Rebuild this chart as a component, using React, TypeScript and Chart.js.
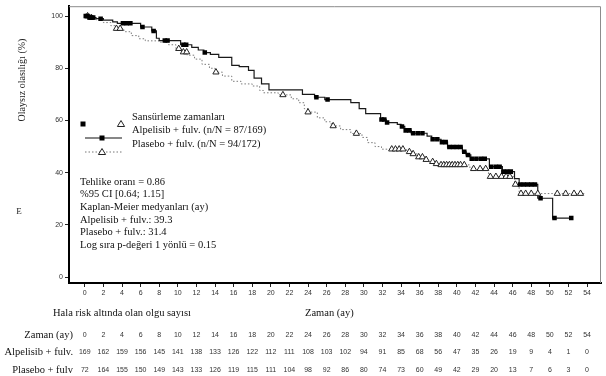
import React, { useEffect, useRef } from 'react';
import { Chart, registerables } from 'chart.js';

Chart.register(...registerables);

// ---- data ----
const tickMonths = [0, 2, 4, 6, 8, 10, 12, 14, 16, 18, 20, 22, 24, 26, 28, 30, 32, 34, 36, 38, 40, 42, 44, 46, 48, 50, 52, 54];
const yTickValues = [0, 20, 40, 60, 80, 100];

const alpTimes = [0, 0.5, 1.2, 2.0, 3.0, 3.5, 6.0, 7.2, 7.7, 8.0, 10.3, 11.5, 12.2, 12.8, 13.5, 14.4, 15.8, 16.6, 17.6, 18.2, 19.0, 19.8, 23.4, 24.7, 25.8, 28.6, 29.5, 30.2, 31.8, 32.4, 33.6, 34.0, 34.4, 35.1, 36.8, 37.3, 38.3, 39.0, 40.6, 41.0, 41.5, 43.5, 44.9, 46.2, 46.7, 48.7, 50.3, 52.4];
const alpSurv = [100, 99.4, 99.0, 98.4, 97.8, 97.2, 95.8, 94.3, 91.5, 90.6, 89.0, 88.0, 87.0, 86.0, 85.3, 84.2, 81.1, 80.6, 79.2, 76.2, 74.0, 71.7, 70.0, 68.9, 68.0, 66.8, 64.5, 62.6, 60.4, 59.2, 58.5, 57.7, 56.2, 55.1, 54.0, 52.8, 51.7, 49.8, 48.0, 46.8, 45.3, 42.3, 40.4, 37.7, 35.5, 30.2, 22.6, 22.6];

const plaTimes = [0, 0.6, 1.2, 2.0, 2.8, 3.3, 4.2, 5.0, 5.8, 6.5, 8.0, 9.0, 9.8, 10.4, 11.0, 11.8, 12.6, 13.4, 14.0, 14.8, 15.8, 16.8, 18.0, 18.8, 19.2, 20.8, 22.2, 23.0, 23.6, 24.0, 25.0, 25.8, 26.5, 27.5, 28.6, 29.8, 30.4, 31.2, 31.9, 34.6, 35.1, 35.8, 36.4, 36.9, 37.6, 38.2, 41.4, 43.4, 46.2, 46.7, 53.7];
const plaSurv = [100, 99.4, 98.5, 97.5, 96.3, 95.2, 94.0, 92.5, 91.3, 90.5, 90.0, 89.0, 87.5, 86.2, 85.0, 83.5, 81.5, 80.0, 78.5, 77.0, 75.0, 74.0, 73.2, 71.5, 70.6, 69.8, 68.3, 66.8, 64.5, 63.2, 61.0, 59.5, 57.9, 56.5, 55.0, 53.5, 51.5, 50.0, 49.0, 48.0, 47.2, 46.0, 45.0, 44.2, 43.4, 43.0, 41.5, 38.5, 35.5, 32.0, 32.0];

const alpCensorTimes = [0.1, 0.3, 0.5, 0.7, 0.9, 1.7, 4.1, 4.5, 4.9, 6.2, 7.4, 8.6, 8.9, 10.6, 10.9, 12.9, 24.9, 26.1, 31.9, 32.2, 32.5, 34.1, 34.5, 34.9, 35.3, 35.8, 36.3, 37.4, 37.9, 38.4, 38.8, 39.2, 39.6, 40.0, 40.4, 40.8, 41.2, 41.6, 42.1, 42.6, 43.0, 43.7, 44.2, 44.6, 45.0, 45.4, 45.8, 46.8, 47.2, 47.6, 48.0, 48.4, 49.0, 50.5, 52.3];
const plaCensorTimes = [0.3, 0.7, 3.4, 3.8, 10.1, 10.6, 10.95, 14.1, 21.3, 24.0, 26.7, 29.2, 33.0, 33.4, 33.8, 34.2, 34.9, 35.3, 35.9, 36.3, 36.7, 37.4, 37.8, 38.3, 38.6, 38.9, 39.2, 39.5, 39.8, 40.1, 40.4, 40.8, 41.8, 42.5, 43.1, 43.6, 44.2, 44.8, 45.3, 45.7, 46.3, 46.9, 47.4, 48.0, 48.7, 50.8, 51.7, 52.6, 53.3];

const riskAlpelisib = [169, 162, 159, 156, 145, 141, 138, 133, 126, 122, 112, 111, 108, 103, 102, 94, 91, 85, 68, 56, 47, 35, 26, 19, 9, 4, 1, 0];
const riskPlasebo = [72, 164, 155, 150, 149, 143, 133, 126, 119, 115, 111, 104, 98, 92, 86, 80, 74, 73, 60, 49, 42, 29, 20, 13, 7, 6, 3, 0];

const yTitle = 'Olaysız olasılığı (%)';
const xTitle = 'Zaman (ay)';
const riskTitle = 'Hala risk altında olan olgu sayısı';
const legendTitle = 'Sansürleme zamanları';
const legendAlp = 'Alpelisib + fulv. (n/N = 87/169)';
const legendPla = 'Plasebo + fulv. (n/N = 94/172)';
const statLines = [
  'Tehlike oranı = 0.86',
  '%95 CI [0.64; 1.15]',
  'Kaplan-Meier medyanları (ay)',
  'Alpelisib + fulv.: 39.3',
  'Plasebo + fulv.: 31.4',
  'Log sıra p-değeri 1 yönlü = 0.15',
];
const riskRowLabels = ['Zaman (ay)', 'Alpelisib + fulv.', 'Plasebo + fulv'];

// ---- helpers ----
function survAt(times: number[], surv: number[], t: number): number {
  let v = surv[0];
  for (let i = 0; i < times.length; i++) {
    if (times[i] <= t) v = surv[i];
    else break;
  }
  return v;
}

const SERIF = '"Liberation Serif", "Times New Roman", serif';
const SANS = '"Liberation Sans", Arial, sans-serif';

const annotPlugin = {
  id: 'annot',
  afterDraw(chart: any) {
    const ctx = chart.ctx as CanvasRenderingContext2D;
    const a = chart.chartArea;
    const xs = chart.scales.x;
    ctx.save();
    // top/right frame
    ctx.strokeStyle = '#8c8c8c';
    ctx.lineWidth = 1;
    ctx.beginPath();
    ctx.moveTo(a.left, a.top + 0.5);
    ctx.lineTo(a.right - 0.5, a.top + 0.5);
    ctx.lineTo(a.right - 0.5, a.bottom);
    ctx.stroke();

    // y title
    ctx.fillStyle = '#222';
    ctx.font = `10px ${SERIF}`;
    ctx.textAlign = 'center';
    ctx.textBaseline = 'middle';
    ctx.save();
    ctx.translate(22, 80);
    ctx.rotate(-Math.PI / 2);
    ctx.fillText(yTitle, 0, 0);
    ctx.restore();
    ctx.font = `9px ${SERIF}`;
    ctx.fillText('E', 19, 212);

    // legend
    ctx.textAlign = 'left';
    ctx.font = `10.5px ${SERIF}`;
    ctx.fillStyle = '#111';
    ctx.fillText(legendTitle, 132, 117);
    ctx.fillText(legendAlp, 132, 130);
    ctx.fillText(legendPla, 132, 144);
    // legend symbols
    ctx.fillStyle = '#000';
    ctx.fillRect(80.5, 121.5, 5, 5);
    const tri = (cx: number, cy: number) => {
      ctx.beginPath();
      ctx.moveTo(cx, cy - 3.5);
      ctx.lineTo(cx + 3.6, cy + 2.5);
      ctx.lineTo(cx - 3.6, cy + 2.5);
      ctx.closePath();
      ctx.fillStyle = '#fff';
      ctx.fill();
      ctx.strokeStyle = '#222';
      ctx.lineWidth = 1;
      ctx.stroke();
    };
    tri(121, 124);
    ctx.strokeStyle = '#111';
    ctx.lineWidth = 1.2;
    ctx.beginPath();
    ctx.moveTo(85, 138);
    ctx.lineTo(122, 138);
    ctx.stroke();
    ctx.fillStyle = '#000';
    ctx.fillRect(99.5, 135.5, 5, 5);
    ctx.strokeStyle = '#777';
    ctx.lineWidth = 1;
    ctx.setLineDash([1.5, 2]);
    ctx.beginPath();
    ctx.moveTo(85, 152);
    ctx.lineTo(122, 152);
    ctx.stroke();
    ctx.setLineDash([]);
    tri(102, 152);

    // stats
    ctx.fillStyle = '#111';
    ctx.font = `10.5px ${SERIF}`;
    statLines.forEach((s, i) => ctx.fillText(s, 80, 182 + i * 12.6));

    // bottom titles
    ctx.fillText(riskTitle, 53, 313);
    ctx.fillText(xTitle, 305, 313);

    // risk table
    const rowY = [335, 352, 370];
    ctx.textAlign = 'right';
    riskRowLabels.forEach((l, i) => ctx.fillText(l, 73, rowY[i]));
    ctx.textAlign = 'center';
    ctx.font = `7px ${SANS}`;
    ctx.fillStyle = '#333';
    const rows = [tickMonths, riskAlpelisib, riskPlasebo];
    rows.forEach((row, r) => {
      row.forEach((v, i) => {
        ctx.fillText(String(v), xs.getPixelForValue(tickMonths[i]), rowY[r]);
      });
    });
    ctx.restore();
  },
};

export default function App() {
  const ref = useRef<HTMLCanvasElement | null>(null);
  useEffect(() => {
    if (!ref.current) return;
    const alpLine = alpTimes.map((t, i) => ({ x: t, y: alpSurv[i] }));
    const plaLine = plaTimes.map((t, i) => ({ x: t, y: plaSurv[i] }));
    const alpCens = alpCensorTimes.map((t) => ({ x: t, y: survAt(alpTimes, alpSurv, t) }));
    const plaCens = plaCensorTimes.map((t) => ({ x: t, y: survAt(plaTimes, plaSurv, t) }));

    const chart = new Chart(ref.current, {
      type: 'scatter',
      data: {
        datasets: [
          {
            label: 'Alpelisib censored',
            data: alpCens,
            showLine: false,
            pointStyle: 'rect',
            pointRadius: 3.2,
            backgroundColor: '#000',
            borderColor: '#000',
            borderWidth: 0,
            order: 0,
          },
          {
            label: 'Plasebo censored',
            data: plaCens,
            showLine: false,
            pointStyle: 'triangle',
            pointRadius: 3.6,
            backgroundColor: '#fff',
            borderColor: '#222',
            borderWidth: 1,
            order: 1,
          },
          {
            label: 'Alpelisib + fulv.',
            data: alpLine,
            showLine: true,
            stepped: true,
            pointRadius: 0,
            borderColor: '#1a1a1a',
            borderWidth: 1.2,
            order: 2,
          },
          {
            label: 'Plasebo + fulv.',
            data: plaLine,
            showLine: true,
            stepped: true,
            pointRadius: 0,
            borderColor: '#7a7a7a',
            borderWidth: 1,
            borderDash: [1.5, 2],
            order: 3,
          },
        ] as any,
      },
      options: {
        animation: false,
        responsive: false,
        devicePixelRatio: 1,
        layout: { padding: { top: 2, right: 2, left: 0, bottom: 0 } },
        plugins: { legend: { display: false }, tooltip: { enabled: false } },
        scales: {
          x: {
            type: 'linear',
            min: -1.7,
            max: 55.5,
            afterBuildTicks: (scale: any) => {
              scale.ticks = tickMonths.map((v) => ({ value: v }));
            },
            afterFit: (scale: any) => {
              scale.height = 93;
            },
            ticks: {
              font: { size: 7, family: SANS },
              color: '#333',
              padding: 2,
              maxRotation: 0,
              autoSkip: false,
            },
            grid: { display: true, drawOnChartArea: false, drawTicks: true, tickLength: 4, color: '#222' },
            border: { display: true, color: '#000', width: 2 },
          },
          y: {
            type: 'linear',
            min: -2.26,
            max: 103.77,
            afterBuildTicks: (scale: any) => {
              scale.ticks = yTickValues.map((v) => ({ value: v }));
            },
            afterFit: (scale: any) => {
              scale.width = 69;
            },
            ticks: {
              font: { size: 7, family: SANS },
              color: '#333',
              padding: 2,
              autoSkip: false,
            },
            grid: { display: true, drawOnChartArea: false, drawTicks: true, tickLength: 4, color: '#222' },
            border: { display: true, color: '#000', width: 2 },
          },
        },
      } as any,
      plugins: [annotPlugin],
    });
    return () => chart.destroy();
  }, []);

  return (
    <div style={{ position: 'absolute', left: 0, top: 0, width: 606, height: 376, background: '#fff' }}>
      <canvas ref={ref} width={606} height={376} style={{ width: 606, height: 376, display: 'block' }} />
    </div>
  );
}
